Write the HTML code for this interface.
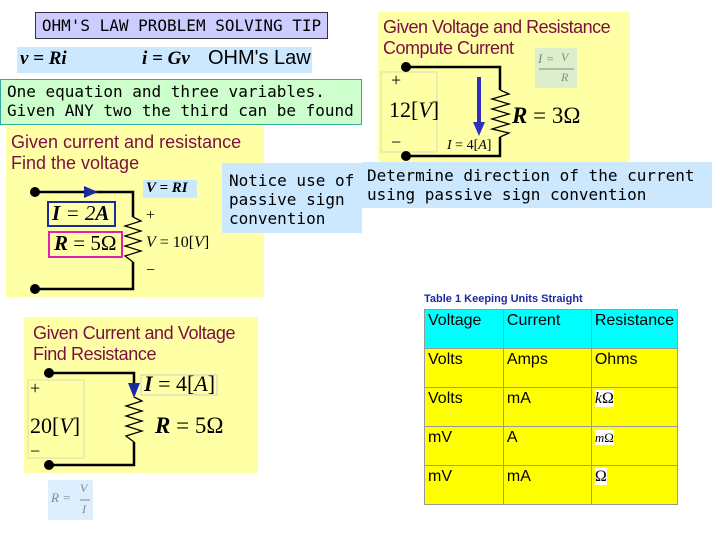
<!DOCTYPE html>
<html><head><meta charset="utf-8"><style>
body{margin:0;width:720px;height:540px;background:#fff;overflow:hidden;position:relative;font-family:"Liberation Sans",sans-serif}
.a{position:absolute;box-sizing:border-box}
.mono{font-family:"DejaVu Sans Mono","Liberation Mono",monospace;font-size:16px;line-height:19px}
.ser{font-family:"Liberation Serif",serif}
.t{color:#7a1040;font-size:18px;line-height:21px}
td{border:1px solid #999;vertical-align:top;padding:2px 3px;font-size:16px;height:39px;box-sizing:border-box}
</style></head><body>
<div class="a mono" style="left:35px;top:12px;width:293px;height:27px;background:#ccccff;border:1px solid #334;line-height:25px;text-align:center">OHM'S LAW PROBLEM SOLVING TIP</div>
<div class="a" style="left:17px;top:47px;width:295px;height:26px;background:#cce8ff"></div>
<div class="a ser" style="left:20px;top:48px;font-size:19px;font-style:italic;font-weight:bold">v = Ri</div>
<div class="a ser" style="left:142px;top:48px;font-size:19px;font-style:italic;font-weight:bold">i = Gv</div>
<div class="a" style="left:208px;top:47px;font-size:20px">OHM's Law</div>
<div class="a mono" style="left:0;top:79px;width:362px;height:46px;background:#ccffcc;border:1px solid #3a9;padding:2px 0 0 6px;white-space:nowrap">One equation and three variables.<br>Given ANY two the third can be found</div>

<div class="a" style="left:6px;top:126px;width:258px;height:171px;background:#ffffa6"></div>
<div class="a t" style="left:11px;top:132px">Given current and resistance<br>Find the voltage</div>
<div class="a" style="left:378px;top:12px;width:252px;height:150px;background:#ffffa6"></div>
<div class="a t" style="left:383px;top:17px;letter-spacing:-0.5px">Given Voltage and Resistance<br>Compute Current</div>
<div class="a" style="left:24px;top:317px;width:234px;height:156px;background:#ffffa6"></div>
<div class="a t" style="left:33px;top:323px;letter-spacing:-0.4px">Given Current and Voltage<br>Find Resistance</div>

<div class="a" style="left:143px;top:180px;width:54px;height:18px;background:#cce8ff"></div>
<div class="a" style="left:535px;top:48px;width:42px;height:40px;background:#ddeecc"></div>
<div class="a" style="left:48px;top:480px;width:45px;height:40px;background:#ddeeff"></div>

<svg class="a" style="left:0;top:0" width="720" height="540">
<g stroke="#000" stroke-width="2.5" fill="none">
<polyline points="35,192 133,192 133,217"/><polyline points="133,262 133,289 35,289"/>
<polyline points="406,67 500,67 500,90"/><polyline points="500,137 500,156 406,156"/>
<polyline points="49,373 134,373 134,385"/><polyline points="134,442 134,465 49,465"/>
</g>
<g stroke="#000" stroke-width="1.3" fill="none">
<polyline points="133,217 141,221 125,226 141,231 125,236 141,241 125,246 141,251 125,256 133,262"/>
<polyline points="500,90 509,94 492,99 509,104 492,109 509,114 492,119 509,124 492,129 509,133 500,137"/>
<polyline points="134,397 142,401 126,406 142,411 126,416 142,421 126,426 142,431 126,436 134,442"/>
<rect x="28" y="380" width="56" height="78" stroke="#e4e4b0"/>
<rect x="381" y="72" width="56" height="80" stroke="#e4e4b0"/>
</g>
<g fill="#000"><circle cx="35" cy="192" r="5"/><circle cx="35" cy="289" r="5"/><circle cx="406" cy="67" r="5"/><circle cx="406" cy="156" r="5"/><circle cx="49" cy="373" r="5"/><circle cx="49" cy="465" r="5"/></g>
<polygon points="84,186 98,192 84,198" fill="#1a2aa0"/>
<line x1="479" y1="77" x2="479" y2="124" stroke="#3030c0" stroke-width="4"/><polygon points="473,122 485,122 479,136" fill="#3030c0"/>
<polygon points="128,383 140,383 134,398" fill="#1a2aa0"/>
<rect x="48" y="202" width="67" height="24" fill="none" stroke="#1a2aa0" stroke-width="2"/>
<rect x="49" y="232" width="73" height="25" fill="none" stroke="#e020b0" stroke-width="2"/>
<rect x="141" y="375" width="76" height="20" fill="none" stroke="#ccc"/>
<line x1="539" y1="69" x2="574" y2="69" stroke="#888" stroke-width="1"/>
<line x1="80" y1="500" x2="90" y2="500" stroke="#888" stroke-width="1"/>
</svg>

<div class="a ser" style="left:52px;top:201px;font-size:21px;font-style:italic;font-weight:bold;color:#002">I <span style="font-weight:normal">= 2</span>A</div>
<div class="a ser" style="left:54px;top:231px;font-size:21px"><b><i>R</i></b> = 5Ω</div>
<div class="a ser" style="left:146px;top:180px;font-size:15px;font-style:italic;font-weight:bold">V = RI</div>
<div class="a ser" style="left:146px;top:207px;font-size:16px">+</div>
<div class="a ser" style="left:146px;top:234px;font-size:16px"><i>V</i> = 10[<i>V</i>]</div>
<div class="a ser" style="left:146px;top:262px;font-size:16px">−</div>

<div class="a mono" style="left:222px;top:163px;width:140px;height:70px;background:#cce8ff;padding:8px 0 0 7px;white-space:nowrap">Notice use of<br>passive sign<br>convention</div>
<div class="a mono" style="left:362px;top:162px;width:350px;height:46px;background:#cce8ff;padding:4px 0 0 5px;white-space:nowrap">Determine direction of the current<br>using passive sign convention</div>

<div class="a ser" style="left:538px;top:51px;font-size:13px;color:#888;font-style:italic">I =</div>
<div class="a ser" style="left:561px;top:50px;font-size:12px;color:#888;font-style:italic">V</div>
<div class="a ser" style="left:561px;top:70px;font-size:12px;color:#888;font-style:italic">R</div>
<div class="a ser" style="left:391px;top:70px;font-size:18px">+</div>
<div class="a ser" style="left:389px;top:97px;font-size:22px">12[<i>V</i>]</div>
<div class="a ser" style="left:391px;top:132px;font-size:18px">−</div>
<div class="a ser" style="left:447px;top:138px;font-size:14px;font-style:italic">I <span style="font-style:normal">= 4[</span>A<span style="font-style:normal">]</span></div>
<div class="a ser" style="left:512px;top:103px;font-size:23px"><b><i>R</i></b> = 3Ω</div>

<div class="a ser" style="left:30px;top:378px;font-size:18px">+</div>
<div class="a ser" style="left:30px;top:413px;font-size:22px">20[<i>V</i>]</div>
<div class="a ser" style="left:30px;top:441px;font-size:18px">−</div>
<div class="a ser" style="left:144px;top:372px;font-size:22px;line-height:24px"><b><i>I</i></b> = 4[<i>A</i>]</div>
<div class="a ser" style="left:155px;top:413px;font-size:23px"><b><i>R</i></b> = 5Ω</div>
<div class="a ser" style="left:51px;top:490px;font-size:13px;color:#888;font-style:italic">R =</div>
<div class="a ser" style="left:80px;top:481px;font-size:12px;color:#888;font-style:italic">V</div>
<div class="a ser" style="left:82px;top:502px;font-size:12px;color:#888;font-style:italic">I</div>

<div class="a" style="left:424px;top:293px;font-size:11px;font-weight:bold;color:#1a2aa0">Table 1 Keeping Units Straight</div>
<table class="a" style="left:424px;top:309px;width:254px;border-collapse:collapse">
<tr style="background:#00ffff"><td style="width:79px">Voltage</td><td style="width:88px">Current</td><td>Resistance</td></tr>
<tr style="background:#ffff00"><td>Volts</td><td>Amps</td><td>Ohms</td></tr>
<tr style="background:#ffff00"><td>Volts</td><td>mA</td><td><span class="ser" style="background:#fff;font-style:italic">k</span><span class="ser" style="background:#fff">Ω</span></td></tr>
<tr style="background:#ffff00"><td>mV</td><td>A</td><td><span class="ser" style="background:#fff;font-size:13px"><i>m</i>Ω</span></td></tr>
<tr style="background:#ffff00"><td>mV</td><td>mA</td><td><span class="ser" style="background:#fff">Ω</span></td></tr>
</table>
</body></html>
